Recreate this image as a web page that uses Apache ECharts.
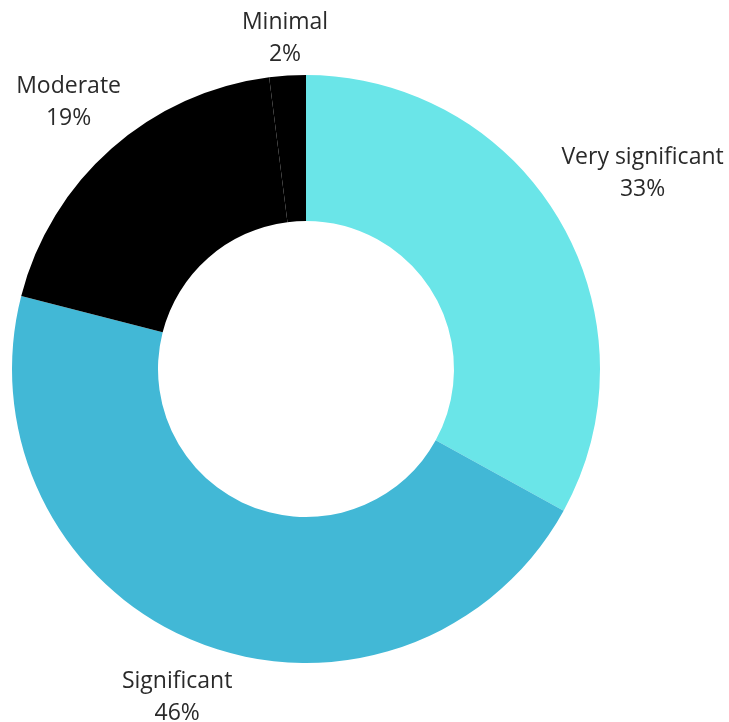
<!DOCTYPE html>
<html><head><meta charset="utf-8">
<script src="https://cdn.jsdelivr.net/npm/echarts@6/dist/echarts.min.js"></script>
<style>html,body{margin:0;padding:0;background:#fff}#c{width:729px;height:722px}</style>
</head><body><div id="c"></div>
<script>
const categories = ['Very significant', 'Significant', 'Moderate', 'Minimal'];
const values = [33, 46, 19, 2];
const colors = ['#6AE5E8', '#42B8D6', '#000000', '#000000'];
const labelOffsets = [97, 56, 65, 40];

const chart = echarts.init(document.getElementById('c'), null, {renderer: 'canvas'});
chart.setOption({
  animation: false,
  series: [{
    type: 'pie',
    center: [306, 369],
    radius: [148, 294],
    startAngle: 90,
    clockwise: true,
    avoidLabelOverlap: false,
    label: {
      show: true,
      position: 'outside',
      formatter: p => p.name + '\n' + p.value + '%',
      fontFamily: 'Open Sans',
      fontSize: 23,
      lineHeight: 32,
      color: '#2a2a2a',
      distanceToLabelLine: 0
    },
    labelLine: {show: false},
    labelLayout: function (params) {
      const r = params.labelRect;
      let ax = r.x + r.width / 2;
      if (params.align === 'left') ax = r.x;
      else if (params.align === 'right') ax = r.x + r.width;
      return {x: ax, y: r.y + r.height / 2 + 3, align: 'center', verticalAlign: 'middle'};
    },
    data: categories.map((n, i) => ({
      name: n,
      value: values[i],
      itemStyle: {color: colors[i]},
      labelLine: {show: false, length: labelOffsets[i], length2: 0}
    }))
  }]
});
</script></body></html>
